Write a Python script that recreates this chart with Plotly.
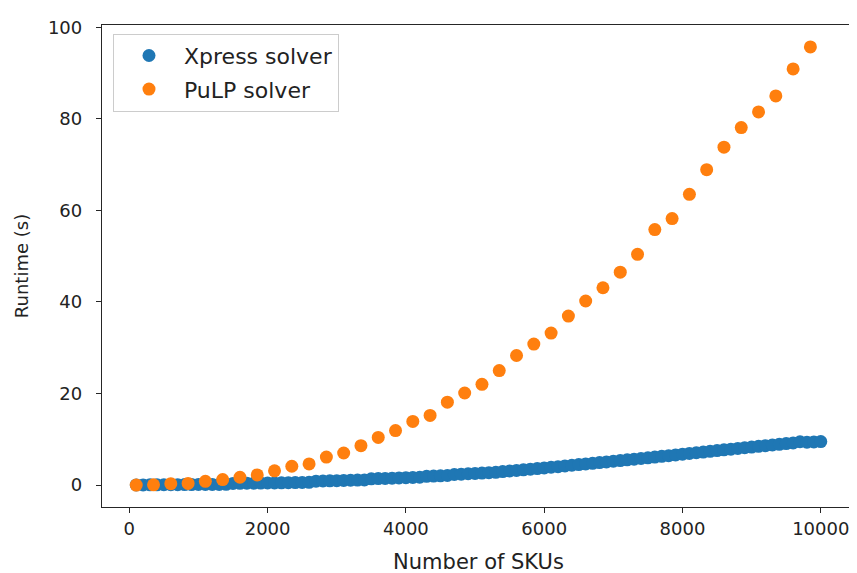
import plotly.graph_objects as go

# PuLP solver (orange) sampled every 250 SKUs
pulp_skus = [100, 350, 600, 850, 1100, 1350, 1600, 1850, 2100, 2350,
             2600, 2850, 3100, 3350, 3600, 3850, 4100, 4350, 4600, 4850,
             5100, 5350, 5600, 5850, 6100, 6350, 6600, 6850, 7100, 7350,
             7600, 7850, 8100, 8350, 8600, 8850, 9100, 9350, 9600, 9850]
pulp_runtime = [0.0, 0.05, 0.3, 0.35, 0.8, 1.2, 1.7, 2.2, 3.1, 4.1,
                4.6, 6.1, 7.0, 8.6, 10.4, 11.9, 13.9, 15.2, 18.1, 20.1,
                22.0, 25.0, 28.3, 30.8, 33.2, 36.9, 40.2, 43.1, 46.5, 50.4,
                55.8, 58.2, 63.5, 68.9, 73.8, 78.1, 81.5, 85.0, 90.9, 95.7]

# Xpress solver (blue) sampled every 100 SKUs (100 .. 10000)
xpress_skus = list(range(100, 10001, 100))
xpress_runtime = [
    0.02, 0.03, 0.04, 0.05, 0.06, 0.07, 0.08, 0.09, 0.10, 0.11,
    0.12, 0.13, 0.14, 0.16, 0.35, 0.37, 0.39, 0.41, 0.43, 0.45,
    0.47, 0.49, 0.51, 0.53, 0.55, 0.58, 0.85, 0.88, 0.92, 0.96,
    1.00, 1.04, 1.08, 1.12, 1.35, 1.40, 1.45, 1.50, 1.55, 1.60,
    1.65, 1.70, 1.90, 1.96, 2.02, 2.08, 2.30, 2.38, 2.46, 2.54,
    2.62, 2.70, 2.78, 2.95, 3.07, 3.20, 3.33, 3.46, 3.60, 3.73,
    3.88, 4.02, 4.17, 4.32, 4.46, 4.60, 4.75, 4.90, 5.05, 5.20,
    5.35, 5.50, 5.65, 5.80, 5.95, 6.10, 6.26, 6.42, 6.58, 6.74,
    6.90, 7.05, 7.20, 7.36, 7.52, 7.68, 7.84, 8.00, 8.15, 8.30,
    8.45, 8.60, 8.75, 8.90, 9.05, 9.20, 9.45, 9.35, 9.42, 9.50]

x_ticks = [0, 2000, 4000, 6000, 8000, 10000]
y_ticks = [0, 20, 40, 60, 80, 100]

BLUE = "#1f77b4"
ORANGE = "#ff7f0e"
FONT = "DejaVu Sans"
TXT = "#222222"

fig = go.Figure()
fig.add_trace(go.Scatter(x=xpress_skus, y=xpress_runtime, mode="markers",
                         name="Xpress solver", legendgroup="a",
                         marker=dict(color=BLUE, size=13, line=dict(width=0))))
fig.add_trace(go.Scatter(x=pulp_skus, y=pulp_runtime, mode="markers",
                         name="PuLP solver", legendgroup="b",
                         marker=dict(color=ORANGE, size=13, line=dict(width=0))))

axis_common = dict(showline=True, mirror=True, linecolor="#262626", linewidth=1.3,
                   ticks="outside", ticklen=5, tickwidth=1.3, tickcolor="#262626",
                   showgrid=False, zeroline=False,
                   tickfont=dict(family=FONT, size=18, color=TXT))

fig.update_layout(
    width=857, height=573,
    margin=dict(l=94, r=9, t=11, b=74),
    paper_bgcolor="white", plot_bgcolor="white",
    font=dict(family=FONT, size=18, color=TXT),
    showlegend=True,
    legend=dict(x=0.0146, y=0.982, xanchor="left", yanchor="top",
                bgcolor="rgba(255,255,255,0.8)", bordercolor="#cccccc", borderwidth=1,
                font=dict(family=FONT, size=22, color=TXT),
                itemwidth=60, tracegroupgap=2),
    xaxis=dict(range=[-395, 10495], tickvals=x_ticks, tickformat="d",
               title=dict(text="Number of SKUs", font=dict(family=FONT, size=21, color=TXT), standoff=16),
               **axis_common),
    yaxis=dict(range=[-4.8, 100.5], tickvals=y_ticks, ticklabelstandoff=10,
               title=dict(text="Runtime (s)", font=dict(family=FONT, size=18, color=TXT), standoff=14),
               **axis_common),
)

fig.write_html("out.html")
